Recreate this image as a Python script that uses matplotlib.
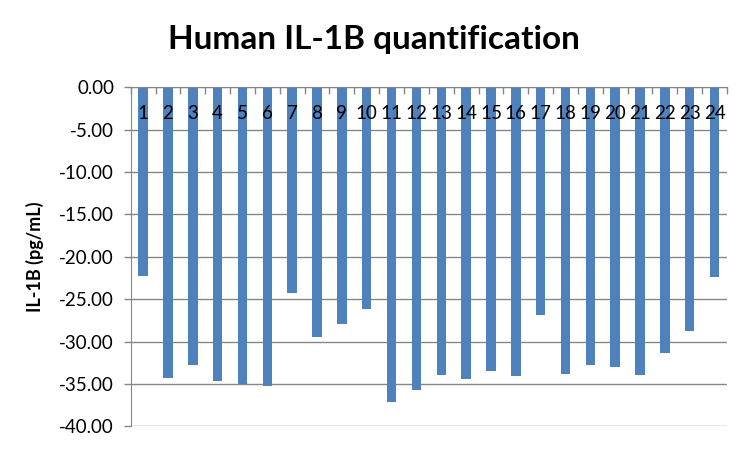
import numpy as np
import matplotlib.pyplot as plt
from matplotlib.ticker import FixedLocator, FormatStrFormatter

plt.rcParams['font.family'] = ['Lato', 'DejaVu Sans']

# Datos
samples = [str(i) for i in range(1, 25)]
il1b = [-22.3, -34.3, -32.8, -34.7, -35.0, -35.3, -24.3, -29.5, -27.9, -26.2,
        -37.1, -35.7, -34.0, -34.4, -33.5, -34.1, -26.9, -33.8, -32.8, -33.0,
        -33.9, -31.4, -28.8, -22.4]
y_ticks = [0, -5, -10, -15, -20, -25, -30, -35, -40]

grey = '#868686'
blue = '#4F81BD'

fig = plt.figure(figsize=(7.5, 4.49), dpi=100)
ax = fig.add_axes([0.1743, 0.0505, 0.795, 0.7551])

x = np.arange(len(samples))
# gridlines detrás de las barras, etiquetas del eje encima
for yt in y_ticks:
    ax.axhline(yt, color=grey, linewidth=1.0, zorder=1)
ax.bar(x, il1b, width=0.38, color=blue, zorder=2)
ax.set_axisbelow(False)

ax.set_xlim(-0.5, len(samples) - 0.5)
ax.set_ylim(-40, 0)

ax.set_yticks(y_ticks)
ax.yaxis.set_major_formatter(FormatStrFormatter('%.2f'))
ax.tick_params(axis='y', direction='out', length=5, color=grey, width=1,
               labelsize=13.5, labelcolor='black', pad=7)

# eje de categorías en y = 0
ax.spines['bottom'].set_position(('data', 0))
ax.spines['bottom'].set_color(grey)
ax.spines['left'].set_color(grey)
ax.spines['top'].set_visible(False)
ax.spines['right'].set_visible(False)

ax.set_xticks(x)
ax.set_xticklabels(samples)
ax.xaxis.set_minor_locator(FixedLocator(np.arange(-0.5, len(samples), 1.0)))
ax.tick_params(axis='x', which='major', length=0, labelsize=13.5, pad=13)
ax.tick_params(axis='x', which='minor', direction='out', length=5,
               color=grey, width=1)

ax.set_ylabel('IL-1B (pg/mL)', fontsize=13, fontweight='bold', labelpad=11)
fig.suptitle('Human IL-1B quantification', x=0.498, y=0.945,
             fontsize=24, fontweight='bold')

fig.savefig('out.png', dpi=100)
